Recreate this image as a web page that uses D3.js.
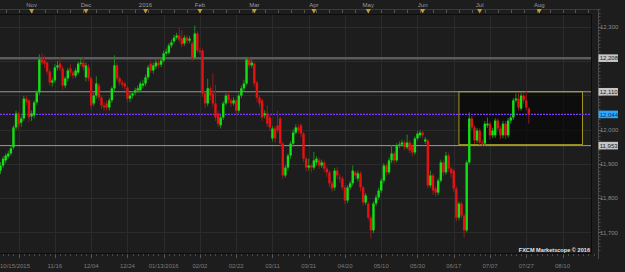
<!DOCTYPE html>
<html lang="en">
<meta charset="utf-8">
<head>
<title>Daily candles</title>
<script src="https://d3js.org/d3.v7.min.js"></script>
<style>
  body { margin: 0; background: #1d1d1d; }
  text { font-family: "Liberation Sans", Arial, sans-serif; font-size: 6px; }
</style>
</head>
<body>
<div id="chart"></div>
<script>
// daily OHLC, one entry per trading day from 10/15/2015
var opens = [
  11880, 11895, 11910, 11921, 11930, 11948, 12006, 12047, 12020, 12032,
  12090, 12085, 12038, 12041, 12079, 12108, 12204, 12201, 12195, 12169,
  12137, 12143, 12181, 12192, 12178, 12128, 12149, 12178, 12166, 12157,
  12166, 12192, 12195, 12152, 12181, 12149, 12076, 12099, 12128, 12093,
  12070, 12076, 12064, 12085, 12120, 12187, 12149, 12137, 12134, 12122,
  12090, 12099, 12108, 12114, 12114, 12128, 12134, 12152, 12192, 12172,
  12184, 12195, 12189, 12201, 12222, 12224, 12245, 12257, 12268, 12274,
  12265, 12251, 12268, 12259, 12251, 12210, 12280, 12230, 12230, 12105,
  12076, 12120, 12105, 12076, 12047, 12012, 12035, 12076, 12102, 12085,
  12076, 12085, 12055, 12099, 12120, 12134, 12204, 12187, 12192, 12137,
  12093, 12085, 12041, 12047, 12035, 11974, 12003, 12012, 12032, 11959,
  11866, 11889, 11924, 11959, 11991, 12006, 12012, 11988, 11915, 11889,
  11895, 11889, 11904, 11910, 11895, 11904, 11886, 11875, 11843, 11831,
  11880, 11860, 11857, 11831, 11793, 11831, 11843, 11875, 11857, 11872,
  11831, 11787, 11784, 11743, 11706, 11784, 11802, 11822, 11851, 11895,
  11875, 11910, 11930, 11910, 11953, 11956, 11962, 11948, 11962, 11953,
  11933, 11974, 11983, 11991, 11965, 11968, 11837, 11866, 11828, 11816,
  11851, 11904, 11875, 11924, 11886, 11880, 11828, 11743, 11784, 11749,
  11706, 11904, 12032, 12006, 11968, 11997, 11962, 11959, 12012, 12017,
  11983, 11983, 12026, 12003, 11983, 12017, 11983, 12026, 12035, 12085,
  12090, 12061, 12099, 12085, 12061
];
var closes = [
  11895, 11915, 11924, 11930, 11945, 12006, 12047, 12015, 12032, 12090,
  12079, 12035, 12047, 12079, 12108, 12204, 12195, 12192, 12169, 12137,
  12143, 12181, 12187, 12178, 12128, 12149, 12172, 12166, 12157, 12172,
  12192, 12195, 12181, 12187, 12149, 12070, 12099, 12134, 12093, 12070,
  12064, 12064, 12085, 12120, 12187, 12149, 12137, 12131, 12125, 12090,
  12099, 12105, 12114, 12120, 12134, 12134, 12152, 12181, 12172, 12187,
  12195, 12187, 12201, 12222, 12227, 12245, 12254, 12268, 12274, 12262,
  12248, 12268, 12259, 12265, 12210, 12280, 12230, 12226, 12105, 12076,
  12120, 12099, 12076, 12035, 12017, 12035, 12076, 12099, 12085, 12076,
  12085, 12055, 12099, 12120, 12134, 12204, 12187, 12195, 12134, 12093,
  12076, 12035, 12047, 12017, 12006, 12003, 11974, 11997, 11959, 11866,
  11889, 11924, 11959, 11991, 12006, 11997, 11988, 11915, 11889, 11895,
  11889, 11910, 11915, 11895, 11904, 11886, 11875, 11843, 11828, 11880,
  11866, 11857, 11831, 11793, 11831, 11843, 11880, 11866, 11872, 11831,
  11787, 11808, 11743, 11706, 11784, 11802, 11822, 11851, 11895, 11875,
  11910, 11930, 11910, 11953, 11956, 11962, 11948, 11962, 11939, 11933,
  11974, 11988, 11991, 11983, 11971, 11837, 11866, 11822, 11816, 11851,
  11904, 11875, 11924, 11886, 11872, 11828, 11743, 11784, 11749, 11706,
  11904, 12032, 12006, 11968, 11997, 11962, 11959, 12017, 12017, 11983,
  11997, 12026, 12003, 11983, 12017, 11983, 12026, 12035, 12085, 12090,
  12064, 12099, 12085, 12064, 12044
];
var highs = [
  11905, 11922, 11930, 11938, 11952, 12012, 12055, 12052, 12040, 12098,
  12100, 12088, 12055, 12085, 12115, 12219, 12222, 12216, 12200, 12175,
  12150, 12190, 12200, 12210, 12185, 12155, 12180, 12190, 12172, 12180,
  12198, 12210, 12212, 12195, 12190, 12155, 12108, 12155, 12135, 12100,
  12080, 12085, 12092, 12126, 12216, 12195, 12155, 12145, 12140, 12128,
  12108, 12112, 12122, 12128, 12140, 12145, 12160, 12188, 12201, 12195,
  12204, 12204, 12210, 12230, 12236, 12252, 12262, 12276, 12282, 12297,
  12290, 12275, 12276, 12272, 12258, 12303, 12286, 12238, 12236, 12112,
  12148, 12126, 12163, 12130, 12055, 12042, 12082, 12106, 12110, 12092,
  12094, 12090, 12106, 12128, 12145, 12212, 12212, 12204, 12198, 12142,
  12100, 12090, 12056, 12070, 12045, 12010, 12010, 12055, 12038, 11965,
  11896, 11930, 11966, 12000, 12015, 12015, 12018, 11992, 11920, 11915,
  11900, 11935, 11922, 11918, 11912, 11910, 11892, 11882, 11850, 11888,
  11890, 11870, 11864, 11838, 11838, 11850, 11895, 11880, 11880, 11878,
  11836, 11815, 11790, 11750, 11790, 11810, 11830, 11858, 11902, 11900,
  11918, 11955, 11936, 11960, 11965, 11970, 11968, 11985, 11968, 11960,
  11980, 11996, 11998, 11996, 11978, 11972, 11880, 11872, 11835, 11858,
  11912, 11910, 11935, 11932, 11892, 11885, 11835, 11790, 11790, 11755,
  11910, 12050, 12040, 12012, 12005, 12003, 11970, 12025, 12035, 12023,
  12005, 12033, 12032, 12010, 12025, 12024, 12033, 12042, 12092, 12105,
  12108, 12110, 12106, 12112, 12065
];
var lows = [
  11870, 11888, 11902, 11915, 11924, 11942, 11998, 12000, 12008, 12025,
  12070, 12022, 12025, 12032, 12072, 12100, 12188, 12180, 12160, 12128,
  12125, 12136, 12172, 12170, 12115, 12120, 12140, 12155, 12148, 12150,
  12160, 12185, 12172, 12140, 12140, 12058, 12068, 12090, 12085, 12060,
  12055, 12055, 12055, 12078, 12112, 12140, 12128, 12122, 12115, 12080,
  12080, 12090, 12100, 12106, 12108, 12120, 12126, 12145, 12165, 12163,
  12176, 12178, 12182, 12195, 12215, 12218, 12238, 12250, 12262, 12255,
  12240, 12244, 12250, 12252, 12200, 12204, 12222, 12218, 12095, 12062,
  12068, 12085, 12065, 12025, 12006, 12003, 12028, 12070, 12076, 12066,
  12070, 12044, 12048, 12092, 12112, 12128, 12178, 12180, 12125, 12080,
  12065, 12025, 12032, 12008, 11995, 11965, 11962, 11990, 11950, 11857,
  11860, 11880, 11915, 11950, 11985, 11988, 11978, 11905, 11878, 11880,
  11875, 11882, 11895, 11885, 11888, 11876, 11862, 11832, 11818, 11822,
  11855, 11845, 11822, 11782, 11785, 11824, 11836, 11855, 11848, 11820,
  11778, 11780, 11735, 11682, 11698, 11776, 11795, 11815, 11843, 11866,
  11868, 11902, 11900, 11904, 11945, 11950, 11940, 11942, 11930, 11922,
  11926, 11968, 11976, 11975, 11958, 11828, 11830, 11810, 11805, 11808,
  11845, 11865, 11868, 11876, 11860, 11818, 11732, 11735, 11740, 11685,
  11700, 11898, 11995, 11958, 11960, 11955, 11950, 11952, 12005, 11970,
  11975, 11976, 11992, 11972, 11975, 11972, 11976, 12018, 12028, 12078,
  12055, 12055, 12075, 12055, 12017
];

var dateLabels = ["10/15/2015", "11/16", "12/04", "12/24", "01/13/2016", "02/02", "02/22", "03/11",
                  "03/31", "04/20", "05/10", "05/30", "06/17", "07/07", "07/27", "08/10"];
var dateIdx = [7, 21, 35, 49, 63, 77, 91, 105, 119, 133, 147, 161, 175, 189, 203, 217];
var monthLabels = ["Nov", "Dec", "2016", "Feb", "Mar", "Apr", "May", "Jun", "Jul", "Aug"];
var monthIdx = [12, 33, 56, 77, 98, 121, 142, 163, 185, 208];
var priceTicks = [11700, 11800, 11900, 12000, 12100, 12200, 12300];
var levelLines = [12208, 12110, 11953];
var lastPrice = 12044;
// consolidation zone drawn on the chart
var zoneFrom = 177, zoneTo = 224.7, zoneHigh = 12110, zoneLow = 11956;

var W = 625, H = 272;
var plotTop = 14, plotBottom = 253, plotRight = 591, axisX = 598;

var x = d3.scaleLinear().domain([0, 230]).range([0.5, 596.2]);
var y = d3.scaleLinear().domain([11700, 12300]).range([232.4, 26.6]);
var fmt = d3.format(",");

var svg = d3.select("#chart").append("svg")
    .attr("width", W)
    .attr("height", H);

svg.append("rect").attr("width", W).attr("height", H).attr("fill", "#1d1d1d");

svg.append("clipPath").attr("id", "clip")
  .append("rect")
    .attr("x", 0).attr("y", plotTop)
    .attr("width", plotRight).attr("height", plotBottom - plotTop);

var plot = svg.append("g").attr("clip-path", "url(#clip)");

// grid
plot.selectAll(".vgrid")
  .data(dateIdx)
  .enter().append("line")
    .attr("x1", function(d) { return Math.round(x(d)) + 0.5; })
    .attr("x2", function(d) { return Math.round(x(d)) + 0.5; })
    .attr("y1", plotTop).attr("y2", plotBottom)
    .attr("stroke", "#2b2b2b");

plot.selectAll(".hgrid")
  .data(priceTicks)
  .enter().append("line")
    .attr("x1", 0).attr("x2", plotRight)
    .attr("y1", function(d) { return Math.round(y(d)) + 0.5; })
    .attr("y2", function(d) { return Math.round(y(d)) + 0.5; })
    .attr("stroke", "#2b2b2b");

// zone box
plot.append("rect")
    .attr("x", x(zoneFrom))
    .attr("y", y(zoneHigh))
    .attr("width", x(zoneTo) - x(zoneFrom))
    .attr("height", y(zoneLow) - y(zoneHigh))
    .attr("fill", "rgba(0,0,0,0.55)")
    .attr("stroke", "#a39a1c")
    .attr("stroke-width", 1);

// support / resistance lines
plot.selectAll(".level")
  .data(levelLines)
  .enter().append("line")
    .attr("x1", 0).attr("x2", plotRight)
    .attr("y1", function(d) { return y(d); })
    .attr("y2", function(d) { return y(d); })
    .attr("stroke", function(d, i) { return i == 0 ? "#5c5c5c" : "#9a9a9a"; })
    .attr("stroke-width", function(d, i) { return i == 0 ? 2.5 : 1; });

plot.append("line")
    .attr("x1", 0).attr("x2", plotRight)
    .attr("y1", y(lastPrice)).attr("y2", y(lastPrice))
    .attr("stroke", "#7d3cff")
    .attr("stroke-width", 1.2)
    .attr("stroke-dasharray", "2,1");

// candles
var idx = d3.range(closes.length);
var up = function(i) { return closes[i] >= opens[i]; };

plot.selectAll(".wick")
  .data(idx)
  .enter().append("line")
    .attr("x1", function(i) { return x(i); })
    .attr("x2", function(i) { return x(i); })
    .attr("y1", function(i) { return y(Math.max(highs[i], opens[i], closes[i])); })
    .attr("y2", function(i) { return y(Math.min(lows[i], opens[i], closes[i])); })
    .attr("stroke", function(i) { return up(i) ? "#1f8a1f" : "#8e1d1d"; })
    .attr("stroke-width", 1);

plot.selectAll(".body")
  .data(idx)
  .enter().append("rect")
    .attr("x", function(i) { return x(i) - 1.2; })
    .attr("y", function(i) { return y(Math.max(opens[i], closes[i])); })
    .attr("width", 2.4)
    .attr("height", function(i) { return Math.max(1, Math.abs(y(opens[i]) - y(closes[i]))); })
    .attr("fill", function(i) { return up(i) ? "#14e014" : "#e61212"; });

// frame
svg.append("rect")
    .attr("x", -1).attr("y", plotTop + 0.5)
    .attr("width", plotRight + 1.5).attr("height", plotBottom - plotTop)
    .attr("fill", "none")
    .attr("stroke", "#0c0c0c");

// top time strip
svg.selectAll(".ttick")
  .data(d3.range(2, 230, 5))
  .enter().append("line")
    .attr("x1", function(d) { return Math.round(x(d)) + 0.5; })
    .attr("x2", function(d) { return Math.round(x(d)) + 0.5; })
    .attr("y1", 10).attr("y2", 13)
    .attr("stroke", "#555");

svg.append("line")
    .attr("x1", 0).attr("x2", axisX)
    .attr("y1", 9.5).attr("y2", 9.5)
    .attr("stroke", "#3a3a3a");

svg.selectAll(".mtri")
  .data(monthIdx)
  .enter().append("path")
    .attr("d", function(d) {
        var cx = x(d);
        return "M" + (cx - 2.5) + ",9L" + (cx + 2.5) + ",9L" + cx + ",13.5Z";
    })
    .attr("fill", "#c99a2c");

svg.selectAll(".mlab")
  .data(monthLabels)
  .enter().append("text")
    .attr("x", function(d, i) { return x(monthIdx[i]); })
    .attr("y", 7)
    .attr("text-anchor", "middle")
    .attr("fill", "#9a9a9a")
    .text(function(d) { return d; });

// bottom axis
svg.selectAll(".bminor")
  .data(d3.range(1, 230, 2))
  .enter().append("line")
    .attr("x1", function(d) { return Math.round(x(d)) + 0.5; })
    .attr("x2", function(d) { return Math.round(x(d)) + 0.5; })
    .attr("y1", plotBottom + 1).attr("y2", plotBottom + 3)
    .attr("stroke", "#4a4a4a");

svg.selectAll(".bmajor")
  .data(dateIdx)
  .enter().append("line")
    .attr("x1", function(d) { return Math.round(x(d)) + 0.5; })
    .attr("x2", function(d) { return Math.round(x(d)) + 0.5; })
    .attr("y1", plotBottom + 1).attr("y2", plotBottom + 5)
    .attr("stroke", "#555");

svg.selectAll(".blab")
  .data(dateLabels)
  .enter().append("text")
    .attr("x", function(d, i) { return i == 0 ? 0 : x(dateIdx[i]); })
    .attr("y", 268)
    .attr("text-anchor", function(d, i) { return i == 0 ? "start" : "middle"; })
    .attr("fill", "#7c7c7c")
    .text(function(d) { return d; });

// right axis
svg.append("line")
    .attr("x1", axisX + 0.5).attr("x2", axisX + 0.5)
    .attr("y1", 9).attr("y2", 259)
    .attr("stroke", "#4a4a4a");

svg.selectAll(".rminor")
  .data(d3.range(11650, 12360, 10))
  .enter().append("line")
    .attr("x1", axisX).attr("x2", axisX + 2.5)
    .attr("y1", function(d) { return Math.round(y(d)) + 0.5; })
    .attr("y2", function(d) { return Math.round(y(d)) + 0.5; })
    .attr("stroke", "#4a4a4a");

svg.selectAll(".rmajor")
  .data(priceTicks)
  .enter().append("line")
    .attr("x1", axisX).attr("x2", axisX + 4)
    .attr("y1", function(d) { return Math.round(y(d)) + 0.5; })
    .attr("y2", function(d) { return Math.round(y(d)) + 0.5; })
    .attr("stroke", "#5a5a5a");

// price tags (tick labels sitting under a tag are covered, as in the platform)
var tags = levelLines.concat([lastPrice]);
var covered = function(v) {
    return tags.some(function(t) { return Math.abs(y(t) - y(v)) < 7.6; });
};

svg.selectAll(".rlab")
  .data(priceTicks.filter(function(d) { return !covered(d); }))
  .enter().append("text")
    .attr("x", axisX + 2)
    .attr("y", function(d) { return y(d) + 2.2; })
    .attr("fill", "#8a8a8a")
    .text(function(d) { return fmt(d); });

var tag = svg.selectAll(".tag")
  .data(tags)
  .enter().append("g")
    .attr("transform", function(d) { return "translate(" + (axisX + 0.5) + "," + y(d) + ")"; });

tag.append("rect")
    .attr("x", 0).attr("y", -3.8)
    .attr("width", 19.5).attr("height", 7.6)
    .attr("fill", function(d) { return d == lastPrice ? "#2ea8ff" : "#c6c6c6"; });

tag.append("text")
    .attr("x", 1.2).attr("y", 2.2)
    .attr("fill", function(d) { return d == lastPrice ? "#0d2a6a" : "#202020"; })
    .text(function(d) { return fmt(d); });

svg.append("text")
    .attr("x", 590).attr("y", 251.5)
    .attr("text-anchor", "end")
    .attr("fill", "#e6e6e6")
    .attr("font-weight", "bold")
    .style("font-size", "5.6px")
    .text("FXCM Marketscope \u00a9 2016");
</script>
</body>
</html>
